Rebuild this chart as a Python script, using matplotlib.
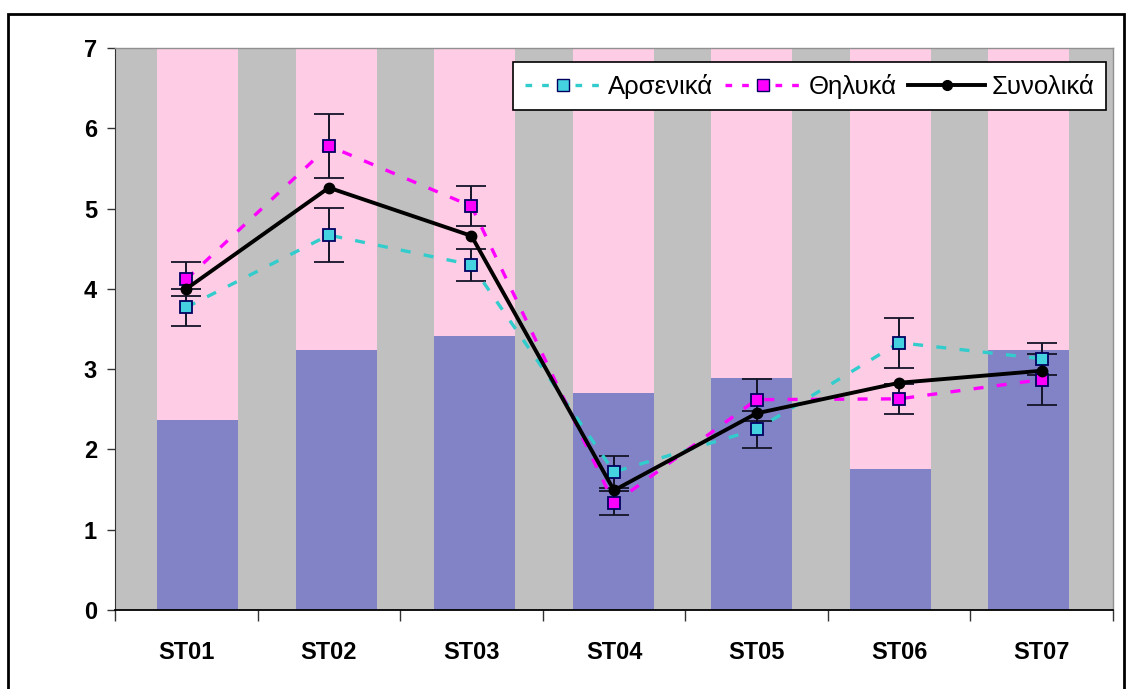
import numpy as np
import matplotlib
matplotlib.use("Agg")
import matplotlib.pyplot as plt
from matplotlib.patches import Rectangle
from matplotlib.lines import Line2D

plt.rcParams['font.family'] = ['Liberation Sans', 'DejaVu Sans']

stations = ["ST01", "ST02", "ST03", "ST04", "ST05", "ST06", "ST07"]
bar_low = [2.37, 3.24, 3.41, 2.70, 2.89, 1.76, 3.24]
bar_total = [7, 7, 7, 7, 7, 7, 7]
male = [3.77, 4.67, 4.30, 1.72, 2.25, 3.33, 3.13]
male_err = [0.23, 0.34, 0.20, 0.20, 0.23, 0.31, 0.20]
female = [4.12, 5.78, 5.03, 1.33, 2.62, 2.63, 2.87]
female_err = [0.21, 0.40, 0.25, 0.15, 0.26, 0.19, 0.32]
total = [4.00, 5.26, 4.66, 1.49, 2.45, 2.83, 2.98]
labels = ["Αρσενικά", "Θηλυκά", "Συνολικά"]

W, H = 1131, 689
fig = plt.figure(figsize=(W / 100, H / 100), dpi=100)
ax = fig.add_axes([115 / W, 1 - 610 / H, (1113 - 115) / W, (610 - 48) / H])
ax.set_facecolor('#C0C0C0')

x = np.arange(len(stations))
bx = x * 0.971 + 0.081
bw = 0.568
upper = np.array(bar_total) - np.array(bar_low)
ax.bar(bx, bar_low, width=bw, color='#8282C6', edgecolor='none', zorder=1)
ax.bar(bx, upper, bottom=bar_low, width=bw, color='#FFCCE5', edgecolor='none', zorder=1)

err_kw = dict(ecolor='#141428', elinewidth=1.4, capsize=10.5, capthick=1.4)
cyan = '#33CCCC'
mag = '#FF00FF'
ax.errorbar(x, male, yerr=male_err, color=cyan, ls=(0, (3, 4)), lw=2.4,
            marker='s', ms=8, mfc='#45D2E0', mec='#000060', mew=1.3, zorder=3, **err_kw)
ax.errorbar(x, female, yerr=female_err, color=mag, ls=(0, (3, 4)), lw=2.4,
            marker='s', ms=8, mfc=mag, mec='#000060', mew=1.3, zorder=3, **err_kw)
ax.plot(x, total, color='black', lw=2.8, marker='o', ms=7.5, zorder=5)

ax.set_xlim(-0.5, 6.5)
ax.set_ylim(0, 7)
ax.set_yticks(range(8))
ax.set_yticklabels([str(i) for i in range(8)], fontsize=17, fontweight='bold')
ax.tick_params(axis='y', length=6, width=1, pad=7, color='#333333')
ax.set_xticks(np.arange(-0.5, 7, 1))
ax.set_xticklabels([''] * 8)
ax.tick_params(axis='x', which='major', length=8, width=1, color='#333333')
ax.set_xticks(x, minor=True)
ax.set_xticklabels(stations, minor=True, fontsize=17, fontweight='bold')
ax.tick_params(axis='x', which='minor', length=0, pad=22)

for s in ['top', 'right']:
    ax.spines[s].set_color('#909090')
    ax.spines[s].set_linewidth(1)
ax.spines['left'].set_color('#333333')
ax.spines['bottom'].set_color('black')
ax.spines['bottom'].set_linewidth(1.3)

handles = [
    Line2D([], [], color=cyan, ls=(0, (2, 3)), lw=2.4, marker='s', ms=8, mfc='#45D2E0', mec='#000060'),
    Line2D([], [], color=mag, ls=(0, (2, 3)), lw=2.4, marker='s', ms=8, mfc=mag, mec='#000060'),
    Line2D([], [], color='black', lw=2.8, marker='o', ms=7),
]
leg = ax.legend(handles, labels, loc='upper right', bbox_to_anchor=(0.993, 0.975), ncol=3,
                fontsize=18.5, frameon=True, fancybox=False, framealpha=1, edgecolor='black',
                handlelength=3.0, handletextpad=0.25, columnspacing=0.45, borderpad=0.45,
                borderaxespad=0)
leg.get_frame().set_linewidth(1.2)
leg.set_zorder(10)

fig.patches.append(Rectangle((8 / W, -0.1), (1124 - 8) / W, 1.1 - 14 / H,
                             transform=fig.transFigure, fill=False, edgecolor='black', lw=2))

fig.savefig('out.png', dpi=100)
